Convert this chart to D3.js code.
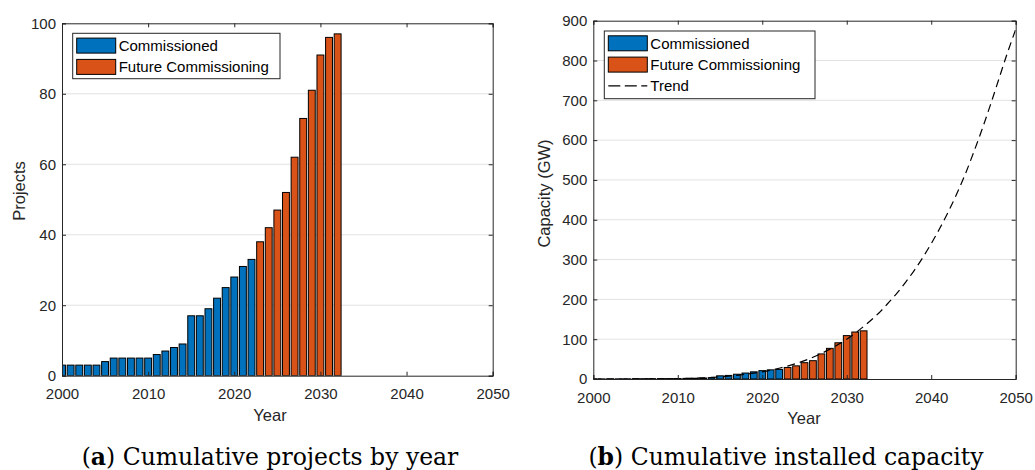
<!DOCTYPE html>
<html>
<head>
<meta charset="utf-8">
<script src="https://cdn.jsdelivr.net/npm/d3@7"></script>
<style>
  html, body { margin: 0; padding: 0; background: #fff; }
  svg { display: block; }
</style>
</head>
<body>
<svg id="chart" width="1035" height="470"></svg>
<script>
// ---------------- DATA ----------------
const years = d3.range(2000, 2033);           // 2000 .. 2032
const lastCommissionedYear = 2022;             // blue up to 2022, orange from 2023

const projects = [3, 3, 3, 3, 3, 4, 5, 5, 5, 5, 5, 6, 7, 8, 9, 17, 17, 19, 22, 25, 28, 31, 33,
                  38, 42, 47, 52, 62, 73, 81, 91, 96, 97];

const capacity = [0.3, 0.3, 0.4, 0.4, 0.5, 0.6, 0.8, 0.9, 1, 1.1, 1.2, 1.5, 2, 2.5, 3.5,
                  8, 9, 12, 15, 18, 21, 23, 24,
                  29, 33, 41, 46, 63, 77, 91, 109, 118, 121];

const trendYears = d3.range(2000, 2051);
const trend = [0, 0, 0, 0, 0, 0.1, 0.1, 0.2, 0.4, 0.6, 0.9, 1.4, 2, 2.9, 4, 5.3, 7, 9.2, 11.8, 14.6,
               18, 22, 27, 32.5, 39, 46, 54.5, 64, 75, 87, 100, 115, 132, 150, 170, 193, 217, 244,
               273, 305, 340, 378, 419, 464, 513, 568, 626, 688, 753, 818, 878];

const xTicks = [2000, 2010, 2020, 2030, 2040, 2050];
const yTicksA = [0, 20, 40, 60, 80, 100];
const yTicksB = [0, 100, 200, 300, 400, 500, 600, 700, 800, 900];

const legendLabels = ["Commissioned", "Future Commissioning", "Trend"];
const captionA = ["a", " Cumulative projects by year"];
const captionB = ["b", " Cumulative installed capacity"];

// ---------------- STYLE ----------------
const BLUE = "#0072BD", ORANGE = "#D95319", AX = "#262626", GRID = "#e2e2e2";
const FONT = "'Liberation Sans', Arial, Helvetica, sans-serif";

const svg = d3.select("#chart");

function panel(opt) {
  const x = d3.scaleLinear().domain([2000, 2050]).range([opt.x0, opt.x1]);
  const y = d3.scaleLinear().domain([0, opt.ymax]).range([opt.yb, opt.yt]);
  const g = svg.append("g");
  const clipId = "clip" + opt.id;
  svg.append("defs").append("clipPath").attr("id", clipId)
    .append("rect").attr("x", opt.x0).attr("y", opt.yt)
    .attr("width", opt.x1 - opt.x0).attr("height", opt.yb - opt.yt);

  // grid
  g.append("g").selectAll("line").data(opt.yTicks.slice(1, -1)).join("line")
    .attr("x1", opt.x0).attr("x2", opt.x1)
    .attr("y1", d => y(d)).attr("y2", d => y(d))
    .attr("stroke", GRID).attr("stroke-width", 1);

  // bars
  const step = x(2001) - x(2000);
  const bw = step * 0.8;
  g.append("g").attr("clip-path", `url(#${clipId})`)
    .selectAll("rect").data(years.map((yr, i) => ({ yr, v: opt.values[i] }))).join("rect")
    .attr("x", d => x(d.yr) - bw / 2)
    .attr("width", bw)
    .attr("y", d => y(d.v))
    .attr("height", d => y(0) - y(d.v))
    .attr("fill", d => d.yr <= lastCommissionedYear ? BLUE : ORANGE)
    .attr("stroke", "#000").attr("stroke-width", 1);

  // trend
  if (opt.trend) {
    const line = d3.line().x((d, i) => x(trendYears[i])).y(d => y(d)).curve(d3.curveMonotoneX);
    g.append("path").attr("clip-path", `url(#${clipId})`)
      .datum(opt.trend).attr("d", line)
      .attr("fill", "none").attr("stroke", "#000").attr("stroke-width", 1.2)
      .attr("stroke-dasharray", "8,5");
  }

  // axes (box with inner ticks on all sides)
  const axB = d3.axisBottom(x).tickValues(xTicks).tickSize(-4).tickFormat(d3.format("d"));
  const axT = d3.axisTop(x).tickValues(xTicks).tickSize(-4).tickFormat("");
  const axL = d3.axisLeft(y).tickValues(opt.yTicks).tickSize(-4);
  const axR = d3.axisRight(y).tickValues(opt.yTicks).tickSize(-4).tickFormat("");

  function style(sel) {
    sel.attr("font-size", null).attr("font-family", null);
    sel.selectAll("path").attr("stroke", AX).attr("stroke-width", 1);
    sel.selectAll("line").attr("stroke", AX).attr("stroke-width", 1);
    sel.selectAll("text").attr("fill", AX).style("font-family", FONT).style("font-size", "15px");
  }
  const gb = g.append("g").attr("transform", `translate(0,${opt.yb})`).call(axB).call(style);
  gb.selectAll("text").attr("y", 0).attr("dy", opt.xTickDy);
  g.append("g").attr("transform", `translate(0,${opt.yt})`).call(axT).call(style);
  const gl = g.append("g").attr("transform", `translate(${opt.x0},0)`).call(axL).call(style);
  gl.selectAll("text").attr("x", -6);
  g.append("g").attr("transform", `translate(${opt.x1},0)`).call(axR).call(style);
  g.selectAll(".domain").attr("stroke", AX);

  // axis labels
  g.append("text").attr("x", opt.xlabX).attr("y", opt.xlabY).attr("text-anchor", "middle")
    .attr("fill", AX).style("font-family", FONT).style("font-size", "16.5px").text("Year");
  g.append("text").attr("transform", `translate(${opt.ylabX},${opt.ylabY}) rotate(-90)`)
    .attr("text-anchor", "middle").attr("fill", AX)
    .style("font-family", FONT).style("font-size", "16.5px").text(opt.ylab);

  // legend
  const L = opt.legend;
  const lg = g.append("g");
  lg.append("rect").attr("x", L.x).attr("y", L.y).attr("width", L.w).attr("height", L.h)
    .attr("fill", "#fff").attr("stroke", AX).attr("stroke-width", 1);
  const rows = opt.trend ? 3 : 2;
  const rowH = 21.3;
  for (let i = 0; i < rows; i++) {
    const cy = L.y + 12.3 + i * rowH;
    if (i < 2) {
      lg.append("rect").attr("x", L.x + 4).attr("y", cy - 7.5).attr("width", 39).attr("height", 15)
        .attr("fill", i === 0 ? BLUE : ORANGE).attr("stroke", "#000").attr("stroke-width", 1);
    } else {
      lg.append("line").attr("x1", L.x + 4).attr("x2", L.x + 43).attr("y1", cy).attr("y2", cy)
        .attr("stroke", "#000").attr("stroke-width", 1.2).attr("stroke-dasharray", "12,4.5");
    }
    lg.append("text").attr("x", L.x + 46).attr("y", cy).attr("dy", "0.36em")
      .attr("fill", "#000").style("font-family", FONT).style("font-size", "15px")
      .text(legendLabels[i]);
  }

  // caption
  const cap = svg.append("text").attr("x", opt.capX).attr("y", 465).attr("text-anchor", "middle")
    .attr("fill", "#000").style("font-family", "'DejaVu Serif', serif").style("font-size", "23.5px");
  cap.append("tspan").text("(");
  cap.append("tspan").attr("font-weight", "bold").text(opt.caption[0]);
  cap.append("tspan").text(")" + opt.caption[1]);
}

panel({
  id: "a", x0: 62, x1: 492.7, yt: 23.3, yb: 375.7, ymax: 100, yTicks: yTicksA,
  values: projects, trend: null, xTickDy: 23.5,
  xlabX: 270, xlabY: 421, ylabX: 24.5, ylabY: 191, ylab: "Projects",
  legend: { x: 72.7, y: 33.3, w: 207.3, h: 45.4 },
  capX: 270, caption: captionA
});

panel({
  id: "b", x0: 593.3, x1: 1015.7, yt: 20.7, yb: 379, ymax: 900, yTicks: yTicksB,
  values: capacity, trend: trend, xTickDy: 24.3,
  xlabX: 804, xlabY: 423.5, ylabX: 550, ylabY: 193.5, ylab: "Capacity (GW)",
  legend: { x: 604.3, y: 31, w: 210.7, h: 67.7 },
  capX: 786, caption: captionB
});
</script>
</body>
</html>
